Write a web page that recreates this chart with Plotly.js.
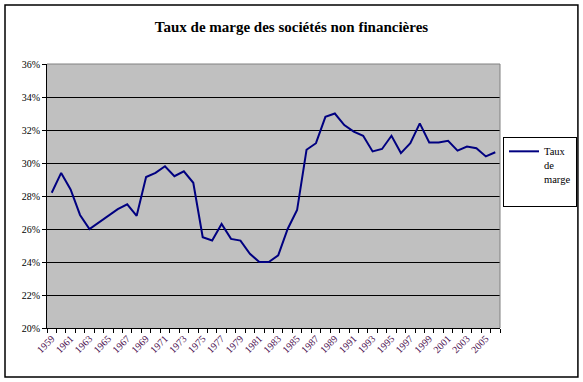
<!DOCTYPE html>
<html>
<head>
<meta charset="utf-8">
<script src="https://cdn.plot.ly/plotly-3.0.1.min.js"></script>
<style>html,body{margin:0;padding:0;background:#fff;}#chart{width:583px;height:382px;}</style>
</head>
<body>
<div id="chart"></div>
<script>
const years = [1959,1960,1961,1962,1963,1964,1965,1966,1967,1968,1969,1970,1971,1972,1973,1974,1975,1976,1977,1978,1979,1980,1981,1982,1983,1984,1985,1986,1987,1988,1989,1990,1991,1992,1993,1994,1995,1996,1997,1998,1999,2000,2001,2002,2003,2004,2005,2006];
const tauxDeMarge = [28.2,29.4,28.4,26.85,26.0,26.4,26.75,27.2,27.5,26.8,29.15,29.4,29.8,29.2,29.5,28.8,25.5,25.3,26.3,25.4,25.3,24.5,24.0,24.0,24.4,26.0,27.15,30.8,31.2,32.8,33.0,32.3,31.9,31.65,30.7,30.85,31.65,30.6,31.2,32.4,31.25,31.25,31.35,30.75,31.0,30.9,30.4,30.65];
const labelYears = [1959,1961,1963,1965,1967,1969,1971,1973,1975,1977,1979,1981,1983,1985,1987,1989,1991,1993,1995,1997,1999,2001,2003,2005];
const labelText = labelYears.map(String);
const yTicks = [20,22,24,26,28,30,32,34,36];
const yTickText = yTicks.map(v => v + '%');

const serif = 'Liberation Serif';
const trace = {
  x: years, y: tauxDeMarge, type: 'scatter', mode: 'lines',
  name: 'Taux<br>de<br>marge<br> ',
  line: {color: '#000080', width: 2}
};
const layout = {
  width: 583, height: 382,
  margin: {l: 47, r: 83, t: 64, b: 54},
  paper_bgcolor: '#ffffff', plot_bgcolor: '#c0c0c0',
  title: {text: '<b>Taux de marge des sociétés non financières</b>', font: {family: serif, size: 15, color: '#000'}, x: 0.5, xref: 'container', y: 0.929, yanchor: 'middle'},
  showlegend: true,
  legend: {xref: 'container', yref: 'container', x: 503/583, xanchor: 'left', y: 1 - 137/382, yanchor: 'top', valign: 'top', bordercolor: '#000', borderwidth: 1, bgcolor: '#fff', font: {family: serif, size: 10.5, color: '#000'}, itemwidth: 30, tracegroupgap: 0},
  xaxis: {
    range: [1958.5, 2006.5], showgrid: false, zeroline: false,
    showline: true, linecolor: '#000', linewidth: 1,
    tickmode: 'array', tickvals: labelYears, ticktext: labelText, tickangle: -45,
    ticks: '', tickfont: {family: serif, size: 10, color: '#4b1050'},
    minor: {ticks: 'outside', ticklen: 4, tickcolor: '#000', tick0: 1958.5, dtick: 1, showgrid: false}
  },
  yaxis: {
    range: [20, 36], tickmode: 'array', tickvals: yTicks, ticktext: yTickText,
    showgrid: true, gridcolor: '#000', gridwidth: 1, zeroline: false,
    showline: true, linecolor: '#000', linewidth: 1,
    ticks: 'outside', ticklen: 4, tickcolor: '#000',
    tickfont: {family: serif, size: 10, color: '#000'}
  },
  shapes: [
    {type: 'line', xref: 'paper', yref: 'paper', x0: 0, x1: 1, y0: 1, y1: 1, line: {color: '#808080', width: 1}},
    {type: 'line', xref: 'paper', yref: 'paper', x0: 1, x1: 1, y0: 0, y1: 1, line: {color: '#808080', width: 1}},
    {type: 'rect', xref: 'paper', yref: 'paper', x0: -0.0927, x1: 1.172, y0: -0.1856, y1: 1.2235, line: {color: '#000', width: 1.5}}
  ]
};
Plotly.newPlot('chart', [trace], layout, {displayModeBar: false, staticPlot: true});
</script>
</body>
</html>
